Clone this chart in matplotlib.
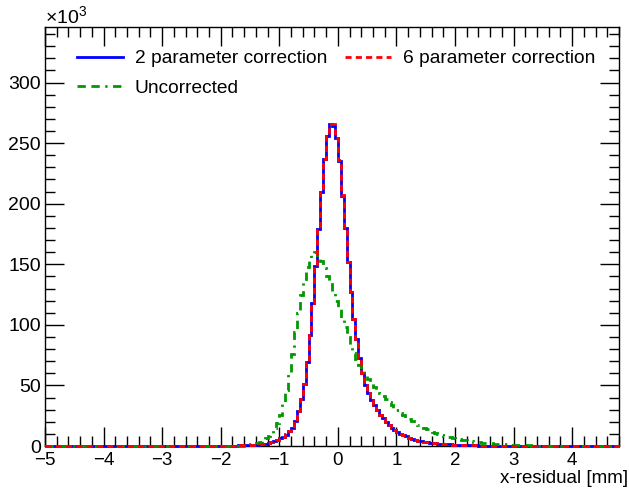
import numpy as np
import matplotlib
matplotlib.use("Agg")
import matplotlib.pyplot as plt
from matplotlib.ticker import MultipleLocator

plt.rcParams['font.family'] = ['Liberation Sans', 'DejaVu Sans']
plt.rcParams['mathtext.fontset'] = 'custom'
plt.rcParams['mathtext.rm'] = 'Liberation Sans'

# histogram binning: 0.05 mm bins from -5 to 4.8
X_LO, X_HI, BW = -5.0, 4.8, 0.05

# entries per bin (x10^3), 2 parameter correction, bins starting at -2.0
two_par_start = -2.0
two_par = [0.2, 0.2, 0.25, 0.3, 0.35, 0.4, 0.5, 0.6, 0.7, 0.8,
           0.9, 1.0, 1.2, 1.3, 1.5, 2.0, 2.8, 3.5, 4.3, 5.0,
           6.3, 7.8, 9.5, 12, 15, 21, 29, 39, 51, 69,
           92, 118, 149, 179, 210, 237, 256, 266, 264, 254,
           235, 206, 180, 152, 127, 105, 88, 73, 60, 50,
           43.5, 38, 34, 30, 26, 23, 20, 17.7, 15.2, 13,
           11.6, 10.2, 9.1, 8.0, 6.9, 6.1, 5.3, 4.4, 3.9, 3.5,
           3.1, 2.8, 2.5, 2.2, 2.0, 1.8, 1.6, 1.4, 1.3, 1.15,
           1.0, 0.9, 0.8, 0.7, 0.62, 0.55, 0.5, 0.45, 0.4, 0.35,
           0.3, 0.27, 0.24, 0.21, 0.19, 0.17, 0.15, 0.13, 0.12, 0.11]

# 6 parameter correction, same start
six_par = [0.2, 0.2, 0.25, 0.3, 0.35, 0.4, 0.5, 0.6, 0.7, 0.8,
           0.9, 1.0, 1.2, 1.3, 1.5, 2.0, 2.8, 3.5, 4.3, 5.0,
           6.3, 7.8, 9.6, 12, 15, 21, 29, 39, 51, 69,
           92, 118, 149, 180, 210, 237, 257, 266, 266, 254,
           236, 207, 181, 152, 127, 105, 88, 73, 60, 50,
           43.5, 38, 34, 30, 26, 23, 20, 17.7, 15.2, 13,
           11.6, 10.2, 9.1, 8.0, 6.9, 6.1, 5.3, 4.4, 3.9, 3.5,
           3.1, 2.8, 2.5, 2.2, 2.0, 1.8, 1.6, 1.4, 1.3, 1.15,
           1.0, 0.9, 0.8, 0.7, 0.62, 0.55, 0.5, 0.45, 0.4, 0.35,
           0.3, 0.27, 0.24, 0.21, 0.19, 0.17, 0.15, 0.13, 0.12, 0.11]

# uncorrected, bins starting at -1.6
uncorr_start = -1.6
uncorr = [0.8, 1.1, 1.5, 2.0, 2.7, 3.6, 4.8, 6.3, 8.2, 11,
          14.5, 19, 26, 35, 46, 60, 76, 94, 110, 125,
          138, 148, 155, 159, 160, 158, 153, 147, 140, 134,
          127, 120, 113, 106, 98, 90, 82, 77, 72, 67,
          63, 59, 55, 52, 49, 46.5, 44, 41, 38.5, 36,
          33.5, 31.5, 29.5, 27.5, 25.5, 23.5, 22, 20.5, 19, 17.5,
          16.2, 15, 13.8, 12.7, 11.7, 10.8, 9.9, 9.1, 8.4, 7.7,
          7.1, 6.5, 6.0, 5.5, 5.0, 4.6, 4.2, 3.9, 3.6, 3.3,
          3.0, 2.7, 2.5, 2.3, 2.1, 1.9, 1.7, 1.5, 1.4, 1.3,
          1.1, 1.0, 0.9, 0.8, 0.7, 0.6, 0.5, 0.45, 0.4, 0.3]


def full_hist(start, vals):
    nbins = int(round((X_HI - X_LO) / BW))
    h = np.zeros(nbins)
    i0 = int(round((start - X_LO) / BW))
    h[i0:i0 + len(vals)] = vals
    return h


def main():
    edges = np.linspace(X_LO, X_HI, int(round((X_HI - X_LO) / BW)) + 1)

    fig = plt.figure(figsize=(6.29, 4.88), dpi=100)
    ax = fig.add_axes([0.0715, 0.086, 0.9125, 0.859])

    h2 = ax.stairs(full_hist(two_par_start, two_par), edges, color='#0000ff',
                   lw=2, label='2 parameter correction', zorder=3, clip_on=False)
    h6 = ax.stairs(full_hist(two_par_start, six_par), edges, color='#ff0000',
                   lw=2, ls=(0, (2.2, 1.5)), label='6 parameter correction',
                   zorder=3.1, clip_on=False)
    hu = ax.stairs(full_hist(uncorr_start, uncorr), edges, color='#009900',
                   lw=2, ls=(0, (3, 2, 3, 2, 0.8, 2)), label='Uncorrected',
                   zorder=3, clip_on=False)

    ax.set_xlim(X_LO, X_HI)
    ax.set_ylim(0, 346)

    ax.xaxis.set_major_locator(MultipleLocator(1))
    ax.xaxis.set_minor_locator(MultipleLocator(0.2))
    ax.yaxis.set_major_locator(MultipleLocator(50))
    ax.yaxis.set_minor_locator(MultipleLocator(10))
    ax.tick_params(which='both', direction='in', top=True, right=True,
                   labelsize=14, width=1)
    ax.tick_params(which='major', length=14, pad=3)
    ax.tick_params(axis='x', which='major', pad=4, labelsize=13.5)
    ax.tick_params(which='minor', length=7)
    for s in ax.spines.values():
        s.set_linewidth(1)
    # the x tick label at -5 sits a little right of the axis corner, as in ROOT
    ax.get_xticklabels()[0].set_horizontalalignment('left')

    fig.text(628 / 629, 1 / 488, 'x-residual [mm]', fontsize=13.5,
             ha='right', va='bottom')
    ax.text(0.0, 0.996, r'$\times$10$^{3}$', transform=ax.transAxes,
            fontsize=14, ha='left', va='bottom')

    ax.legend([h2, hu, h6],
              ['2 parameter correction', 'Uncorrected', '6 parameter correction'],
              ncol=2, frameon=False, loc='upper left',
              bbox_to_anchor=(0.056, 0.945), borderpad=0, borderaxespad=0,
              fontsize=13.8, handlelength=2.4, handletextpad=0.6,
              columnspacing=0.95, labelspacing=0.65)

    fig.savefig('out.png', dpi=100)


if __name__ == "__main__":
    main()
